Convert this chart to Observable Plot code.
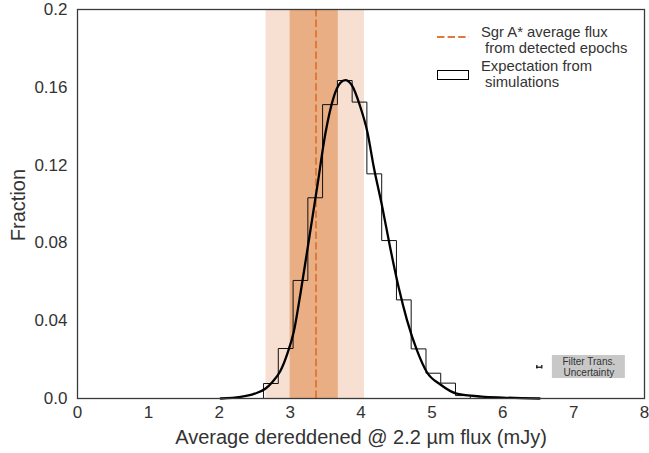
<!DOCTYPE html>
<html>
<head>
<meta charset="utf-8">
<script src="https://cdn.jsdelivr.net/npm/d3@7"></script>
<script src="https://cdn.jsdelivr.net/npm/@observablehq/plot@0.6"></script>
<style>
  html, body { margin: 0; padding: 0; background: #fff; }
  svg { display: block; }
</style>
</head>
<body>
<div id="chart"></div>
<script>
// ---- data ----
const xTicks = [0, 1, 2, 3, 4, 5, 6, 7, 8];
const yTicks = [0, 0.04, 0.08, 0.12, 0.16, 0.2];
const yTickLabels = ["0.0", "0.04", "0.08", "0.12", "0.16", "0.2"];

// simulated histogram (step outline)
const binEdges = [2.625, 2.833, 3.042, 3.25, 3.458, 3.667, 3.875, 4.083, 4.292, 4.5, 4.708, 4.917, 5.125, 5.333, 5.542];
const binFractions = [0.0077, 0.0257, 0.0607, 0.1032, 0.1511, 0.1635, 0.1524, 0.1155, 0.0812, 0.0507, 0.0255, 0.013, 0.0079, 0.0015];

// smooth expectation curve
const kdeX = [2.02, 2.3, 2.5, 2.65, 2.75, 2.86, 2.96, 3.05, 3.146, 3.264, 3.382, 3.498, 3.615, 3.71, 3.78, 3.87, 3.99, 4.09, 4.18, 4.30, 4.41, 4.53, 4.65, 4.79, 4.93, 5.12, 5.35, 5.7, 6.0, 6.52];
const kdeY = [0.0, 0.0008, 0.0025, 0.005, 0.0085, 0.014, 0.023, 0.034, 0.054, 0.0813, 0.1088, 0.1364, 0.155, 0.1623, 0.1637, 0.1611, 0.150, 0.137, 0.119, 0.0985, 0.0779, 0.0573, 0.0402, 0.0247, 0.0135, 0.0072, 0.0025, 0.001, 0.0005, 0.0];

// Sgr A* observed average flux and uncertainty bands
const obsMean = 3.365;
const obsInner = [3.0, 3.68];
const obsOuter = [2.66, 4.05];

// filter transmission uncertainty error bar and its label box
const filterX = 6.516;
const filterY = 0.0161;
const filterHalf = 0.035;
const filterBox = [6.70, 7.73, 0.0103, 0.0221];
const filterLines = ["Filter Trans.", "Uncertainty"];

const legendItems = ["Sgr A* average flux", " from detected epochs", "Expectation from", " simulations"];

// ---- derived tables ----
const histPts = [{x: binEdges[0], y: 0}];
binFractions.forEach((f, i) => histPts.push({x: binEdges[i], y: f}));
histPts.push({x: binEdges[binFractions.length], y: 0});
const kde = kdeX.map((x, i) => ({x, y: kdeY[i]}));

const orange = "#de7b3c";
const font = "'Liberation Sans', Arial, Helvetica, sans-serif";
const ink = "#333333";

const W = 649, H = 453;
const mL = 77, mR = 5, mT = 9, mB = 55;

const plot = Plot.plot({
  width: W,
  height: H,
  marginLeft: mL,
  marginRight: mR,
  marginTop: mT,
  marginBottom: mB,
  style: {fontFamily: font, background: "#fff", overflow: "visible"},
  x: {domain: [0, 8]},
  y: {domain: [0, 0.2]},
  marks: [
    Plot.rectX([obsOuter], {x1: d => d[0], x2: d => d[1], fill: "#f7e0d2"}),
    Plot.rectX([obsInner], {x1: d => d[0], x2: d => d[1], fill: "#e9ae84"}),
    Plot.ruleX([obsMean], {stroke: orange, strokeWidth: 2, strokeDasharray: "7.4,3.2"}),
    Plot.line(histPts, {x: "x", y: "y", curve: "step-after", stroke: "#111", strokeWidth: 1}),
    Plot.line(kde, {x: "x", y: "y", curve: "monotone-x", stroke: "#000", strokeWidth: 2.3}),
    Plot.ruleY([filterY], {x1: filterX - filterHalf, x2: filterX + filterHalf, stroke: "#000", strokeWidth: 1.2}),
    Plot.ruleX([filterX - filterHalf, filterX + filterHalf], {y1: filterY - 0.0009, y2: filterY + 0.0009, stroke: "#000", strokeWidth: 1.2}),
    Plot.rect([filterBox], {x1: d => d[0], x2: d => d[1], y1: d => d[2], y2: d => d[3], fill: "#c8c8c8"}),
    Plot.text(filterLines, {
      x: (filterBox[0] + filterBox[1]) / 2,
      y: (d, i) => i === 0 ? filterBox[3] - 0.0031 : filterBox[2] + 0.0029,
      text: d => d, fontSize: 10, fill: "#333", fontFamily: font
    }),
    Plot.axisX({ticks: xTicks, tickSize: 0, tickPadding: 7, fontSize: 17, fill: ink, label: null, tickFormat: d => String(d)}),
    Plot.axisY({ticks: yTicks, tickSize: 0, tickPadding: 10, fontSize: 17, fill: ink, label: null,
      tickFormat: d => yTickLabels[yTicks.indexOf(d)]}),
    Plot.frame({stroke: "#3a3a3a", strokeWidth: 1.3})
  ]
});

const svg = d3.select(plot);

// axis titles
svg.append("text")
  .attr("x", 361).attr("y", 444)
  .attr("text-anchor", "middle")
  .attr("font-family", font).attr("font-size", 20).attr("fill", ink)
  .text("Average dereddened @ 2.2 \u00b5m flux (mJy)");
svg.append("text")
  .attr("transform", "translate(25,205) rotate(-90)")
  .attr("text-anchor", "middle")
  .attr("font-family", font).attr("font-size", 20).attr("fill", ink)
  .text("Fraction");

// legend
const lg = svg.append("g").attr("font-family", font).attr("font-size", 14.8).attr("fill", ink)
  .attr("text-anchor", "start");
lg.append("line").attr("x1", 437).attr("x2", 469).attr("y1", 37).attr("y2", 37)
  .attr("stroke", orange).attr("stroke-width", 2).attr("stroke-dasharray", "7.4,3.2");
lg.append("rect").attr("x", 437.5).attr("y", 70.5).attr("width", 31).attr("height", 9)
  .attr("fill", "none").attr("stroke", "#000").attr("stroke-width", 1);
const legY = [36.5, 52.5, 70.5, 86.5];
legendItems.forEach((t, i) => {
  lg.append("text").attr("x", 481).attr("y", legY[i]).attr("text-anchor", "start")
    .attr("xml:space", "preserve").style("white-space", "pre").text(t);
});

document.getElementById("chart").appendChild(plot);
</script>
</body>
</html>
